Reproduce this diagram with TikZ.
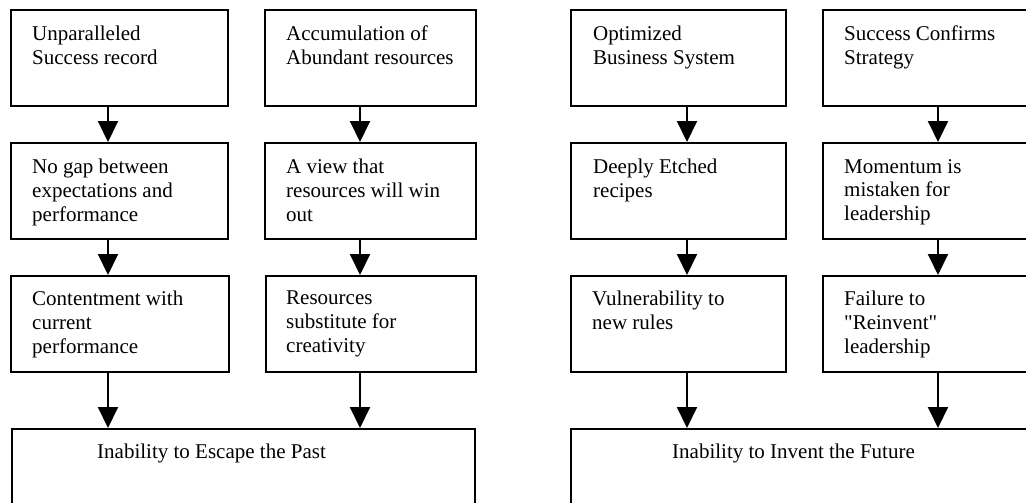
\documentclass[tikz,border=0pt]{standalone}
\usepackage{fontspec}
\setmainfont{Liberation Serif}
\usetikzlibrary{arrows.meta,calc}

\tikzset{
  box/.style={draw=black, line width=1.6pt, rectangle, inner sep=0pt, anchor=north west},
  cellbox/.style={box, minimum width=#1, minimum height=96},
  txt/.style={anchor=north west, inner sep=0pt, align=left,
              font=\fontsize{21}{23.7}\selectfont},
  arr/.style={line width=2pt, -{Triangle[width=20pt,length=21pt]}},
}

\begin{document}
\begin{tikzpicture}[x=1pt,y=-1pt]
  \useasboundingbox (0,0) rectangle (1026,503);
  \clip (0,0) rectangle (1026,503);
  \fill[white] (0,0) rectangle (1026,503);

  % shaft positions of the downward arrows
  \coordinate (xa) at (108,0);
  \coordinate (xb) at (360,0);
  \coordinate (xc) at (687,0);
  \coordinate (xd) at (938,0);

  % ---------- left flow: Inability to Escape the Past ----------
  \node[cellbox=217] (a1) at (10,9)   {};
  \node[cellbox=211] (b1) at (264,9)  {};
  \node[cellbox=217] (a2) at (10,142) {};
  \node[cellbox=211] (b2) at (264,142) {};
  \node[cellbox=218] (a3) at (10,275) {};
  \node[cellbox=210] (b3) at (265,275) {};
  \node[box, minimum width=463, minimum height=120] (past) at (11,428) {};

  \node[txt] (a1t) at ($(a1.north west)+(22,17)$) {Unparalleled\\Success record};
  \node[txt] (b1t) at ($(b1.north west)+(22,17)$) {Accumulation of\\Abundant resources};
  \node[txt] (a2t) at ($(a2.north west)+(22,17)$) {No gap between\\expectations and\\performance};
  \node[txt] (b2t) at ($(b2.north west)+(22,17)$) {A view that\\resources will win\\out};
  \node[txt] (a3t) at ($(a3.north west)+(22,16)$) {Contentment with\\current\\performance};
  \node[txt] (b3t) at ($(b3.north west)+(21,16)$) {Resources\\substitute for\\creativity};
  \node[txt] (pastt) at ($(past.north west)+(86,16)$) {Inability to Escape the Past};

  \draw[arr] (a1.south -| xa) -- (a2.north -| xa);
  \draw[arr] (b1.south -| xb) -- (b2.north -| xb);
  \draw[arr] (a2.south -| xa) -- (a3.north -| xa);
  \draw[arr] (b2.south -| xb) -- (b3.north -| xb);
  \draw[arr] (a3.south -| xa) -- (past.north -| xa);
  \draw[arr] (b3.south -| xb) -- (past.north -| xb);

  % ---------- right flow: Inability to Invent the Future ----------
  \node[cellbox=215] (c1) at (570,9)   {};
  \node[cellbox=215] (d1) at (822,9)   {};
  \node[cellbox=215] (c2) at (570,142) {};
  \node[cellbox=215] (d2) at (822,142) {};
  \node[cellbox=215] (c3) at (570,275) {};
  \node[cellbox=215] (d3) at (822,275) {};
  \node[box, minimum width=470, minimum height=120] (future) at (570,428) {};

  \node[txt] (c1t) at ($(c1.north west)+(23,17)$) {Optimized\\Business System};
  \node[txt] (d1t) at ($(d1.north west)+(22,17)$) {Success Confirms\\Strategy};
  \node[txt] (c2t) at ($(c2.north west)+(23,17)$) {Deeply Etched\\recipes};
  \node[txt] (d2t) at ($(d2.north west)+(22,17)$) {Momentum is\\mistaken for\\leadership};
  \node[txt] (c3t) at ($(c3.north west)+(22,16)$) {Vulnerability to\\new rules};
  \node[txt] (d3t) at ($(d3.north west)+(22,16)$) {Failure to\\\textquotedbl Reinvent\textquotedbl\\leadership};
  \node[txt] (futuret) at ($(future.north west)+(102,16)$) {Inability to Invent the Future};

  \draw[arr] (c1.south -| xc) -- (c2.north -| xc);
  \draw[arr] (d1.south -| xd) -- (d2.north -| xd);
  \draw[arr] (c2.south -| xc) -- (c3.north -| xc);
  \draw[arr] (d2.south -| xd) -- (d3.north -| xd);
  \draw[arr] (c3.south -| xc) -- (future.north -| xc);
  \draw[arr] (d3.south -| xd) -- (future.north -| xd);
\end{tikzpicture}
\end{document}
